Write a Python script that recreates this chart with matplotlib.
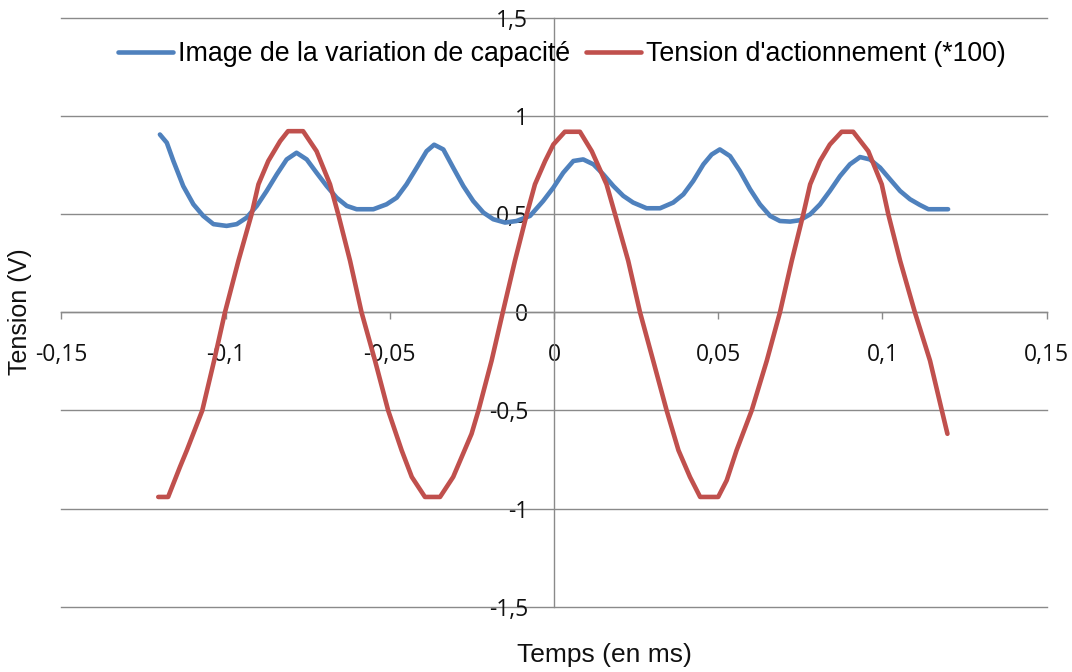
import matplotlib
matplotlib.use("Agg")
import matplotlib.pyplot as plt
from matplotlib.ticker import FixedLocator, FixedFormatter

# Series values (time in ms, voltage in V)
cap_t = [-0.1200, -0.1179, -0.1159, -0.1129, -0.1098, -0.1068, -0.1037, -0.0997,
         -0.0966, -0.0936, -0.0905, -0.0875, -0.0844, -0.0814, -0.0784, -0.0753,
         -0.0723, -0.0692, -0.0662, -0.0631, -0.0601, -0.0550, -0.0510, -0.0479,
         -0.0449, -0.0418, -0.0388, -0.0365, -0.0337, -0.0307, -0.0276, -0.0246,
         -0.0215, -0.0185, -0.0149, -0.0114, -0.0073, -0.0033, -0.0002, 0.0028,
         0.0059, 0.0089, 0.0120, 0.0150, 0.0181, 0.0211, 0.0241, 0.0282,
         0.0323, 0.0363, 0.0394, 0.0424, 0.0455, 0.0480, 0.0505, 0.0536,
         0.0566, 0.0597, 0.0627, 0.0658, 0.0688, 0.0719, 0.0749, 0.0780,
         0.0810, 0.0840, 0.0871, 0.0901, 0.0932, 0.0962, 0.0993, 0.1023,
         0.1054, 0.1084, 0.1114, 0.1140, 0.1200]
cap_v = [0.907, 0.865, 0.772, 0.644, 0.551, 0.492, 0.450, 0.441,
         0.450, 0.483, 0.543, 0.619, 0.704, 0.780, 0.814, 0.780,
         0.712, 0.644, 0.585, 0.543, 0.526, 0.526, 0.551, 0.585,
         0.653, 0.738, 0.822, 0.855, 0.831, 0.738, 0.644, 0.568,
         0.509, 0.475, 0.458, 0.466, 0.492, 0.568, 0.636, 0.712,
         0.772, 0.780, 0.755, 0.704, 0.644, 0.594, 0.560, 0.531,
         0.531, 0.560, 0.602, 0.670, 0.755, 0.805, 0.831, 0.797,
         0.721, 0.628, 0.551, 0.492, 0.466, 0.463, 0.470, 0.500,
         0.551, 0.619, 0.695, 0.755, 0.792, 0.780, 0.738, 0.679,
         0.619, 0.577, 0.548, 0.526, 0.526]

act_t = [-0.1205, -0.1175, -0.1159, -0.1139, -0.1118, -0.1071, -0.1035, -0.1002,
         -0.0961, -0.0921, -0.0900, -0.0870, -0.0834, -0.0810, -0.0764, -0.0723,
         -0.0682, -0.0657, -0.0621, -0.0586, -0.0545, -0.0505, -0.0464, -0.0433,
         -0.0393, -0.0347, -0.0307, -0.0251, -0.0230, -0.0190, -0.0156, -0.0119,
         -0.0083, -0.0058, -0.0027, -0.0002, 0.0033, 0.0079, 0.0115, 0.0160,
         0.0186, 0.0226, 0.0262, 0.0302, 0.0343, 0.0379, 0.0414, 0.0445,
         0.0500, 0.0526, 0.0556, 0.0602, 0.0648, 0.0688, 0.0724, 0.0759,
         0.0780, 0.0810, 0.0840, 0.0876, 0.0911, 0.0957, 0.0998, 0.1018,
         0.1054, 0.1099, 0.1145, 0.1181, 0.1198]
act_v = [-0.941, -0.941, -0.873, -0.788, -0.703, -0.500, -0.246, 0.000,
         0.263, 0.500, 0.653, 0.772, 0.873, 0.924, 0.924, 0.822,
         0.653, 0.500, 0.263, 0.000, -0.246, -0.500, -0.703, -0.839,
         -0.941, -0.941, -0.839, -0.619, -0.500, -0.246, 0.000, 0.263,
         0.500, 0.653, 0.772, 0.856, 0.921, 0.921, 0.822, 0.653,
         0.500, 0.263, 0.000, -0.246, -0.500, -0.703, -0.839, -0.941,
         -0.941, -0.856, -0.703, -0.500, -0.246, 0.000, 0.263, 0.500,
         0.653, 0.772, 0.856, 0.921, 0.921, 0.822, 0.653, 0.500,
         0.263, 0.000, -0.246, -0.500, -0.619]

x_ticks = [-0.15, -0.10, -0.05, 0.0, 0.05, 0.10, 0.15]
x_tick_labels = ["-0,15", "-0,1", "-0,05", "0", "0,05", "0,1", "0,15"]
y_ticks = [-1.5, -1.0, -0.5, 0.0, 0.5, 1.0, 1.5]
y_tick_labels = ["-1,5", "-1", "-0,5", "0", "0,5", "1", "1,5"]

series_names = ["Image de la variation de capacité", "Tension d'actionnement (*100)"]

W, H = 1072, 672
fig = plt.figure(figsize=(W / 100, H / 100), dpi=100)
left, right, top, bottom = 61.4, 1046.6, 18.2, 606.6
ax = fig.add_axes([left / W, 1 - bottom / H, (right - left) / W, (bottom - top) / H])

grey = "#8a8a8a"
ax.plot(cap_t, cap_v, color="#4F81BD", lw=3.3, solid_joinstyle="round",
        solid_capstyle="round", label=series_names[0], zorder=3)
ax.plot(act_t, act_v, color="#C0504D", lw=3.3, solid_joinstyle="round",
        solid_capstyle="round", label=series_names[1], zorder=4)

ax.set_xlim(-0.15, 0.15)
ax.set_ylim(-1.5, 1.5)

# Axes crossing at the origin
for s in ("top", "right"):
    ax.spines[s].set_visible(False)
ax.spines["left"].set_position(("data", 0))
ax.spines["bottom"].set_position(("data", 0))
for s in ("left", "bottom"):
    ax.spines[s].set_color(grey)
    ax.spines[s].set_linewidth(1.0)

ax.xaxis.set_major_locator(FixedLocator(x_ticks))
ax.xaxis.set_major_formatter(FixedFormatter(x_tick_labels))
ax.yaxis.set_major_locator(FixedLocator(y_ticks))
ax.yaxis.set_major_formatter(FixedFormatter(y_tick_labels))

ax.tick_params(axis="x", direction="out", length=5, width=1.0, color=grey,
               pad=17.0, labelsize=16.5)
ax.tick_params(axis="y", length=0, pad=18.5, labelsize=16.5)
for lab in ax.get_xticklabels() + ax.get_yticklabels():
    lab.set_fontfamily("Open Sans")
    lab.set_color("#111111")

ax.yaxis.grid(True, color=grey, lw=1.0)
ax.set_axisbelow(True)
for gl in ax.yaxis.get_gridlines():
    gl.set_clip_on(False)

# Legend across the top of the plot area
leg = ax.legend(loc="center", bbox_to_anchor=(562 / W, 1 - 54 / H),
                bbox_transform=fig.transFigure, ncol=2, frameon=False,
                prop=dict(family="Liberation Sans", size=19.3),
                handlelength=2.05, handletextpad=0.18, columnspacing=0.62,
                borderpad=0.0)
for line in leg.get_lines():
    line.set_linewidth(3.3)

fig.text(604 / W, 1 - 655 / H, "Temps (en ms)", ha="center", va="center",
         family="Liberation Sans", size=19, color="#111111")
fig.text(20 / W, 1 - 312 / H, "Tension (V)", ha="center", va="center",
         rotation=90, family="Liberation Sans", size=18, color="#111111")

fig.savefig("out.png", dpi=100, facecolor="white")
